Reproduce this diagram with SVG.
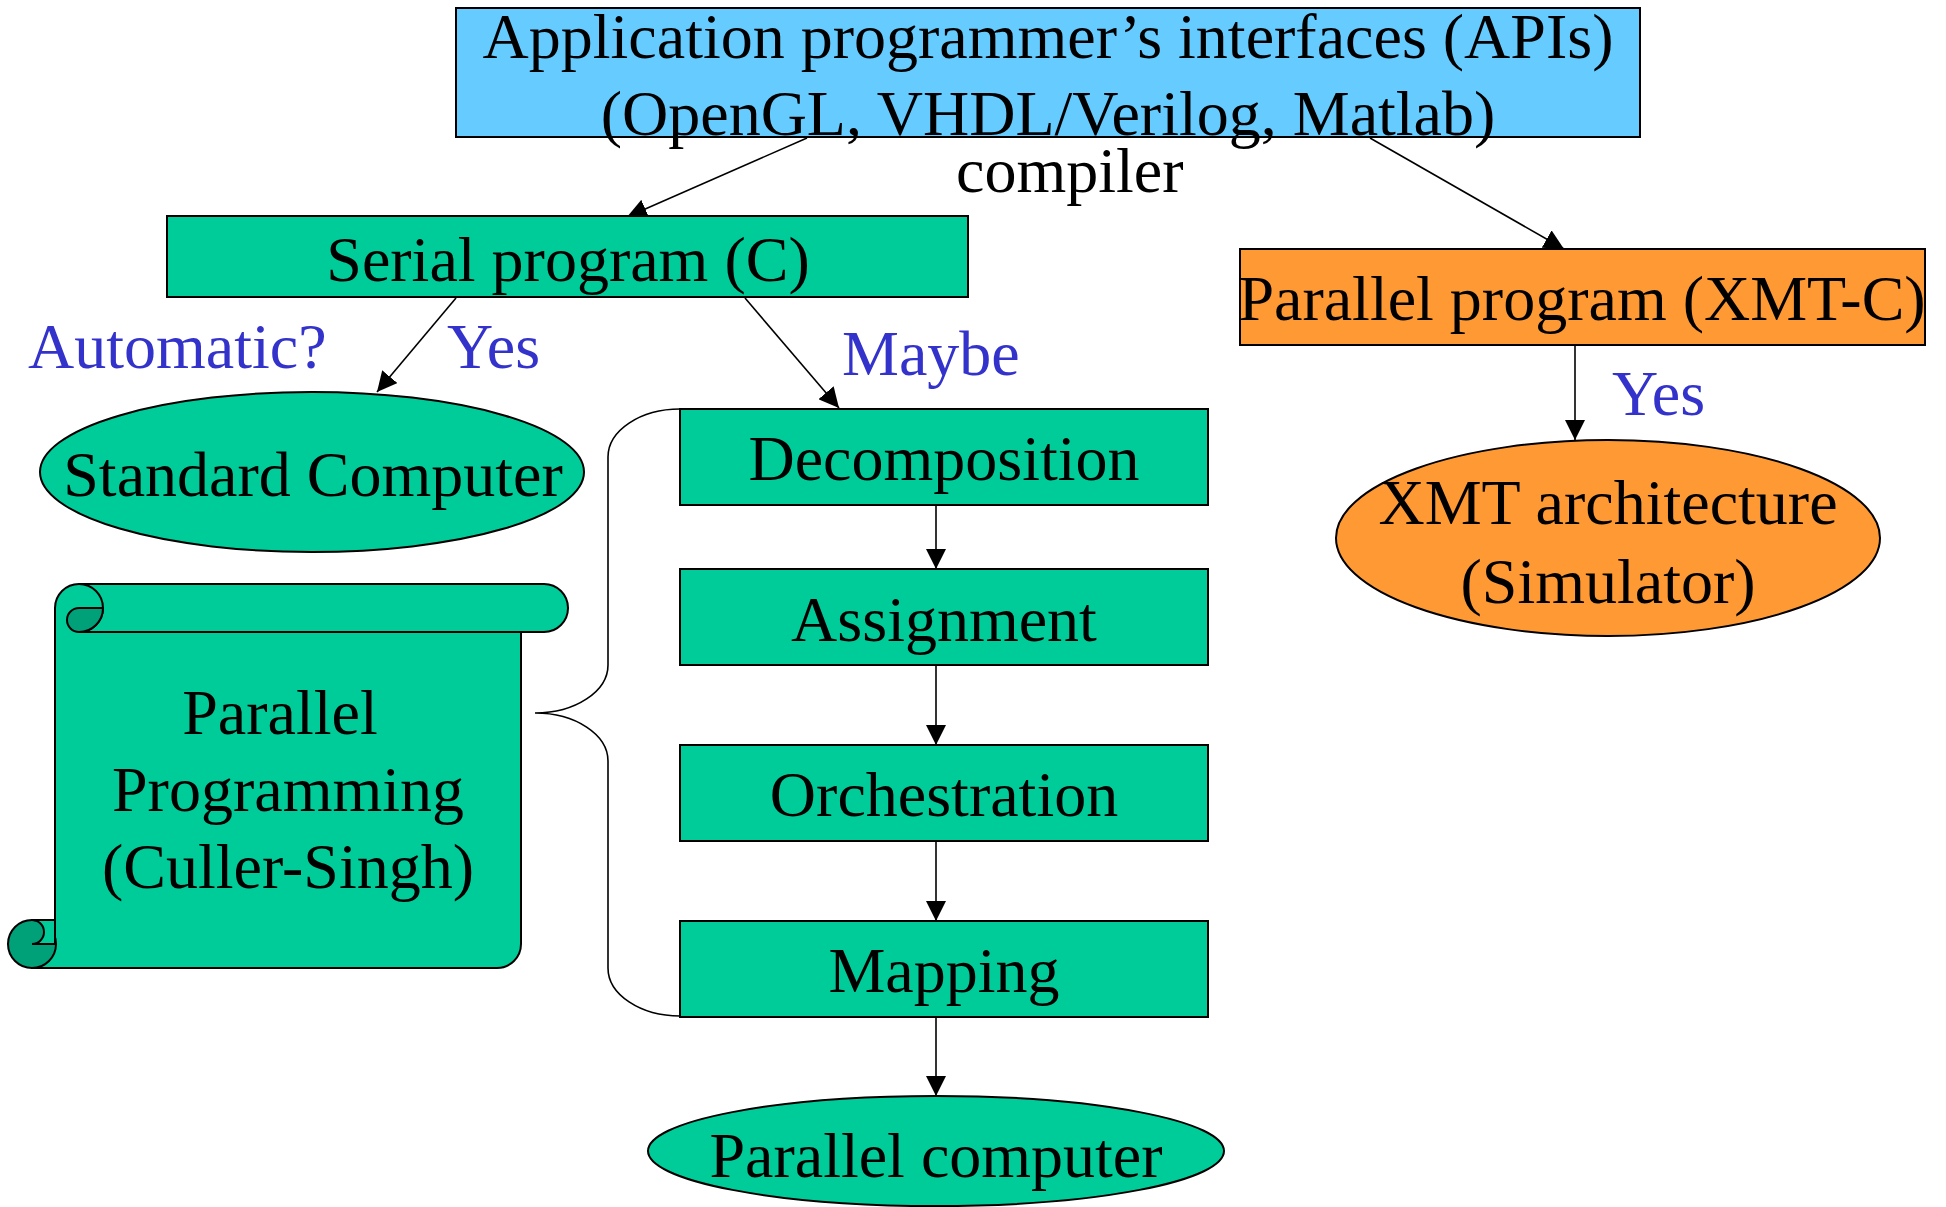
<svg xmlns="http://www.w3.org/2000/svg" width="1946" height="1207" viewBox="0 0 1946 1207">
<defs>
<style>
.t{font-family:"Liberation Serif","Times New Roman",serif;font-size:64px;fill:#000}
.m{text-anchor:middle}
.b{fill:#3333CC}
.box{stroke:#000;stroke-width:2}
.g{fill:#00CC99}
.o{fill:#FF9933}
.c{fill:none;stroke:#000;stroke-width:1.6}
.dk{fill:#00A078;stroke:#000;stroke-width:2}
</style>
<marker id="arr" viewBox="0 0 20 20" refX="20" refY="10" markerWidth="20" markerHeight="20" markerUnits="userSpaceOnUse" orient="auto">
<path d="M0,0 L20,10 L0,20 Z" fill="#000"/>
</marker>
</defs>
<rect width="1946" height="1207" fill="#fff"/>

<g id="connectors">
<line class="c" x1="807" y1="138" x2="627" y2="217" marker-end="url(#arr)"/>
<line class="c" x1="1370" y1="138" x2="1564" y2="249" marker-end="url(#arr)"/>
<line class="c" x1="456" y1="298" x2="377" y2="392" marker-end="url(#arr)"/>
<line class="c" x1="745" y1="298" x2="839" y2="408" marker-end="url(#arr)"/>
<line class="c" x1="1575" y1="345" x2="1575" y2="440" marker-end="url(#arr)"/>
<line class="c" x1="936" y1="505" x2="936" y2="569" marker-end="url(#arr)"/>
<line class="c" x1="936" y1="665" x2="936" y2="745" marker-end="url(#arr)"/>
<line class="c" x1="936" y1="841" x2="936" y2="921" marker-end="url(#arr)"/>
<line class="c" x1="936" y1="1017" x2="936" y2="1096" marker-end="url(#arr)"/>
<path id="brace" class="c" d="M680,409 A72,48 0 0 0 608,457 L608,665 A73,48 0 0 1 535,713 A73,48 0 0 1 608,761 L608,968 A72,48 0 0 0 680,1016"/>
</g>

<g id="api">
<rect class="box" x="456" y="8" width="1184" height="129" fill="#66CCFF"/>
<text class="t m" x="1048" y="58">Application programmer’s interfaces (APIs)</text>
<text class="t m" x="1048" y="135">(OpenGL, VHDL/Verilog, Matlab)</text>
</g>

<g id="compiler-label">
<text class="t" x="956" y="192">compiler</text>
</g>

<g id="serial">
<rect class="box g" x="167" y="216" width="801" height="81"/>
<text class="t m" x="568" y="281">Serial program (C)</text>
</g>

<g id="parallel-program">
<rect class="box o" x="1240" y="249" width="685" height="96"/>
<text class="t m" x="1582" y="320">Parallel program (XMT-C)</text>
</g>

<g id="labels">
<text class="t b" x="28" y="368">Automatic?</text>
<text class="t b" x="447" y="368">Yes</text>
<text class="t b" x="842" y="375">Maybe</text>
<text class="t b" x="1612" y="415">Yes</text>
</g>

<g id="standard">
<ellipse class="box g" cx="312" cy="472" rx="272" ry="80"/>
<text class="t m" x="313" y="496">Standard Computer</text>
</g>

<g id="xmt">
<ellipse class="box o" cx="1608" cy="538" rx="272" ry="98"/>
<text class="t m" x="1608" y="524">XMT architecture</text>
<text class="t m" x="1608" y="603">(Simulator)</text>
</g>

<g id="decomposition">
<rect class="box g" x="680" y="409" width="528" height="96"/>
<text class="t m" x="944" y="480">Decomposition</text>
</g>

<g id="assignment">
<rect class="box g" x="680" y="569" width="528" height="96"/>
<text class="t m" x="944" y="641">Assignment</text>
</g>

<g id="orchestration">
<rect class="box g" x="680" y="745" width="528" height="96"/>
<text class="t m" x="944" y="816">Orchestration</text>
</g>

<g id="mapping">
<rect class="box g" x="680" y="921" width="528" height="96"/>
<text class="t m" x="944" y="992">Mapping</text>
</g>

<g id="parallel-computer">
<ellipse class="box g" cx="936" cy="1151" rx="288" ry="55"/>
<text class="t m" x="936" y="1177">Parallel computer</text>
</g>

<g id="scroll">
<path class="box g" d="M55,608 A24,24 0 0 1 79,584 L544,584 A24,24 0 0 1 544,632 L521,632 L521,944 A24,24 0 0 1 497,968 L32,968 L32,920 L55,920 Z"/>
<path class="c" style="stroke-width:2" d="M79,584 A24,24 0 0 1 79,632 L521,632"/>
<path class="dk" d="M79,608 L103,608 A24,24 0 0 1 79,632 A12,12 0 0 1 79,608 Z"/>
<circle class="dk" cx="32" cy="944" r="24"/>
<path class="g" stroke="#000" stroke-width="2" d="M32,920 L55,920 L55,944 L32,944 A12,12 0 0 0 32,920 Z"/>
<text class="t m" x="280" y="734">Parallel</text>
<text class="t m" x="288" y="811">Programming</text>
<text class="t m" x="288" y="888">(Culler-Singh)</text>
</g>
</svg>
